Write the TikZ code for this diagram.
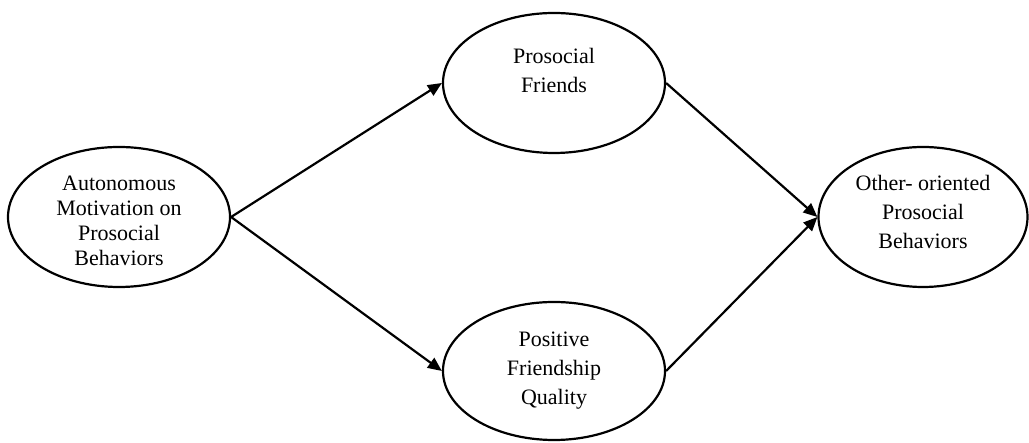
\documentclass[tikz,border=0pt]{standalone}
\usepackage{fontspec}
\setmainfont{Liberation Serif}
\usetikzlibrary{shapes.geometric,arrows.meta}
\begin{document}
\begin{tikzpicture}[x=1pt,y=1pt,
  ell/.style={draw, line width=2.2pt, ellipse, inner sep=0pt, align=center,
    font=\fontsize{22}{29}\selectfont},
  conn/.style={line width=2.2pt, -{Triangle[length=14pt,width=12pt]}}]
\useasboundingbox (0,0) rectangle (1029,443);
\node[ell, minimum width=222pt, minimum height=140pt, font=\fontsize{22}{25}\selectfont] (amp) at (119,226) {Autonomous\\Motivation on\\Prosocial\\Behaviors\\[-32pt]};
\node[ell, minimum width=222pt, minimum height=140pt] (pf) at (554,360) {Prosocial\\Friends\\[-3pt]};
\node[ell, minimum width=222pt, minimum height=138pt] (pfq) at (554,72) {Positive\\Friendship\\Quality};
\node[ell, minimum width=209pt, minimum height=140pt] (oop) at (923,226) {Other- oriented\\Prosocial\\Behaviors\\[-19pt]};
\draw[conn] (amp.east) -- (pf.west);
\draw[conn] (amp.east) -- (pfq.west);
\draw[conn] (pf.east) -- (oop.west);
\draw[conn] (pfq.east) -- (oop.west);
\end{tikzpicture}
\end{document}
